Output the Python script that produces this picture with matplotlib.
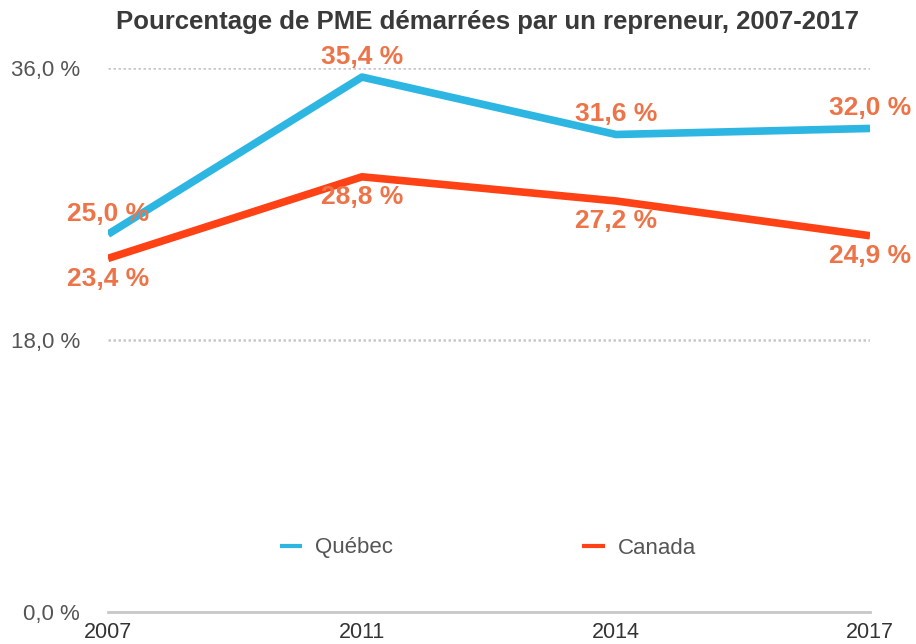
import matplotlib
matplotlib.use("Agg")
import matplotlib.pyplot as plt

annees = ["2007", "2011", "2014", "2017"]
quebec = [25.0, 35.4, 31.6, 32.0]
canada = [23.4, 28.8, 27.2, 24.9]
yticks = [0, 18, 36]

bleu = "#2db6e2"
rouge = "#ff4116"
orange = "#ec7448"
gris = "#555555"

plt.rcParams['font.family'] = ['Liberation Sans', 'DejaVu Sans']

fig = plt.figure(figsize=(9.16, 6.44), dpi=100)
ax = fig.add_axes([108 / 916, 32 / 644, (870 - 108) / 916, (612 - 68) / 644])

x = list(range(len(annees)))
ax.plot(x, quebec, color=bleu, lw=5.5, solid_capstyle='butt', label="Québec", zorder=3)
ax.plot(x, canada, color=rouge, lw=5.5, solid_capstyle='butt', label="Canada", zorder=3)

def fmt(v):
    return f"{v:.1f}".replace(".", ",") + " %"

for i, v in enumerate(quebec):
    ax.annotate(fmt(v), (i, v), xytext=(0, 14.5), textcoords='offset points',
                ha='center', va='center', fontsize=19, color=orange,
                fontweight='bold', zorder=4, annotation_clip=False)
for i, v in enumerate(canada):
    ax.annotate(fmt(v), (i, v), xytext=(0, -14.5), textcoords='offset points',
                ha='center', va='center', fontsize=19, color=orange,
                fontweight='bold', zorder=4, annotation_clip=False)

ax.set_xlim(0, 3)
ax.set_ylim(0, 36)
ax.set_xticks(x)
ax.set_xticklabels(annees)
ax.set_yticks(yticks)
ax.set_yticklabels([fmt(t) for t in yticks])
for t in yticks[1:]:
    ax.axhline(t, color="#c8c8c8", lw=1.8, ls=(0, (1, 1)), zorder=1)
ax.axhline(0, color="#c8c8c8", lw=2, zorder=1, clip_on=False)

for s in ax.spines.values():
    s.set_visible(False)
ax.tick_params(axis='both', length=0, labelsize=16, labelcolor=gris)
ax.tick_params(axis='y', pad=20)
ax.tick_params(axis='x', pad=7, labelsize=15.5)
for lab in ax.get_xticklabels():
    lab.set_color("#333333")

fig.legend(loc='center', bbox_to_anchor=(488 / 916, 1 - 548 / 644), ncol=2,
           frameon=False, fontsize=16, handlelength=1.0, handletextpad=0.6,
           columnspacing=8.5, labelcolor=gris)
for h in fig.legends[0].get_lines():
    h.set_linewidth(3)

fig.text(488 / 916, 1 - 22 / 644, "Pourcentage de PME démarrées par un repreneur, 2007-2017",
         ha='center', va='center', fontsize=18.5, fontweight='bold', color="#3a3a3a")

fig.savefig("out.png", dpi=100)
